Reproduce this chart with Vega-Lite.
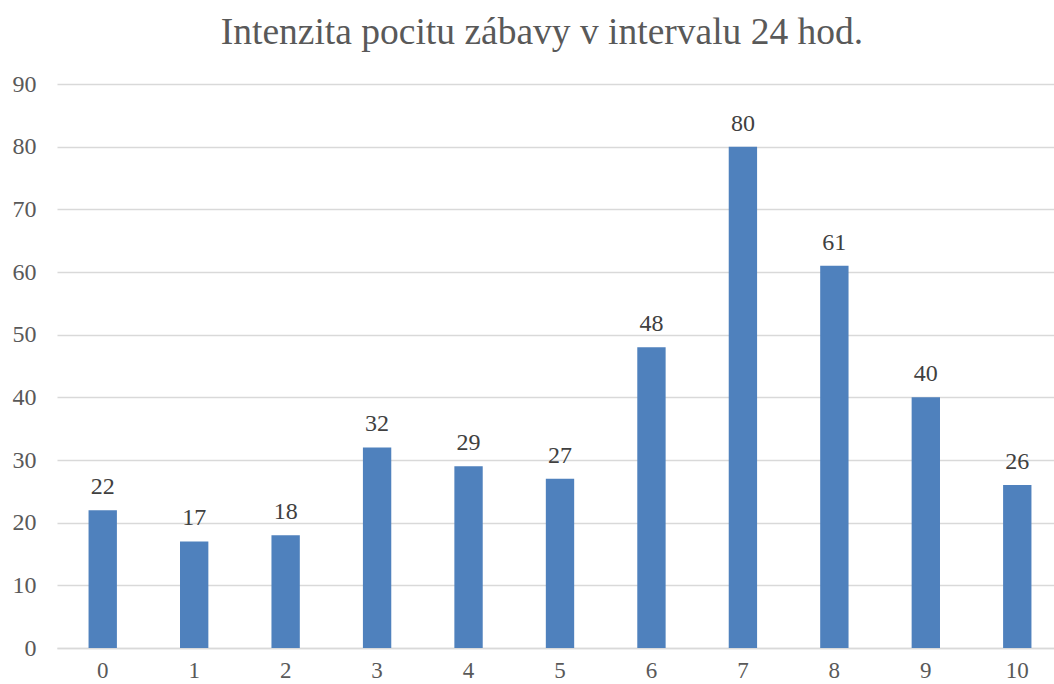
{
  "$schema": "https://vega.github.io/schema/vega-lite/v6.json",
  "autosize": "none",
  "width": 1006,
  "height": 564,
  "padding": {"left": 57, "top": 84, "right": 0, "bottom": 36},
  "background": "white",
  "title": {
    "text": "Intenzita pocitu zábavy v intervalu 24 hod.",
    "font": "Liberation Serif",
    "fontSize": 37.5,
    "fontWeight": "normal",
    "color": "#595959",
    "anchor": "middle",
    "dx": -18,
    "offset": 21
  },
  "data": {
    "values": [
      {"k": "0", "v": 22},
      {"k": "1", "v": 17},
      {"k": "2", "v": 18},
      {"k": "3", "v": 32},
      {"k": "4", "v": 29},
      {"k": "5", "v": 27},
      {"k": "6", "v": 48},
      {"k": "7", "v": 80},
      {"k": "8", "v": 61},
      {"k": "9", "v": 40},
      {"k": "10", "v": 26}
    ]
  },
  "config": {
    "view": {"stroke": null},
    "axis": {
      "labelFont": "Liberation Serif",
      "labelFontSize": 24,
      "labelColor": "#595959",
      "ticks": false,
      "title": null,
      "gridColor": "#d9d9d9",
      "gridWidth": 1.3
    }
  },
  "encoding": {
    "x": {
      "field": "k",
      "type": "ordinal",
      "sort": null,
      "scale": {"paddingInner": 0.69, "paddingOuter": 0.345},
      "axis": {"labelAngle": 0, "labelPadding": 11, "labelFontSize": 23, "domainColor": "#d9d9d9", "domainWidth": 1.3, "grid": false}
    },
    "y": {
      "field": "v",
      "type": "quantitative",
      "scale": {"domain": [0, 90]},
      "axis": {"values": [0,10,20,30,40,50,60,70,80,90], "domain": false, "labelPadding": 21, "grid": true}
    }
  },
  "layer": [
    {"mark": {"type": "bar", "color": "#4F81BD"}},
    {
      "mark": {"type": "text", "baseline": "bottom", "dy": -11, "font": "Liberation Serif", "fontSize": 24, "color": "#404040"},
      "encoding": {"text": {"field": "v", "type": "quantitative"}}
    }
  ]
}
